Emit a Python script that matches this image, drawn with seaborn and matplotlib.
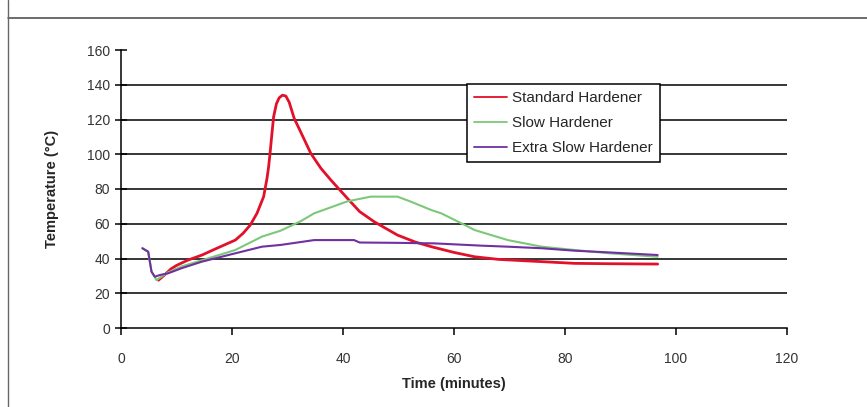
import pandas as pd
import matplotlib.pyplot as plt
import seaborn as sns
from matplotlib.lines import Line2D

std_time = [6.75, 8.0, 9.0, 10, 12, 14.6, 17, 20.6, 22, 23.3, 24.5, 25.7, 26.3, 26.6, 26.9,
            27.2, 27.5, 28.0, 28.5, 29.1, 29.7, 30.3, 31.2, 32.5, 34.2, 36, 37.8, 40.8,
            43, 45.6, 49.8, 53, 55.9, 60, 63.7, 68, 72.7, 77, 81.7, 88, 96.7]
std_temp = [27.5, 31, 34, 36, 39, 42, 45.5, 50.6, 54.5, 59.3, 66, 75.6, 86, 92.8, 102,
            112, 121.6, 129, 132.5, 134, 133.5, 130, 120.7, 112, 100.5, 92, 85.2, 74.6,
            67, 61.2, 53.5, 49.5, 46.8, 43.5, 41, 39.5, 38.7, 38, 37.2, 37, 36.8]

slow_time = [3.85, 4.9, 5.5, 6.4, 7.5, 8.5, 11, 14.6, 20.6, 25.4, 28.75, 32.4, 34.8,
             40.8, 45, 49.8, 52, 55.9, 57.7, 61.3, 63.7, 69.7, 75.8, 81.7, 88, 96.7]
slow_temp = [45.9, 43.9, 32.4, 27.6, 30, 32, 35.5, 39, 44.9, 52.6, 56, 61.5, 66,
             72.9, 75.6, 75.6, 73, 67.9, 66, 60.3, 56.4, 50.6, 46.8, 44.9, 43, 41]

xslow_time = [3.85, 4.9, 5.5, 6.1, 7.0, 8.5, 11, 14.6, 20.6, 25.4, 28.75, 34.8, 42, 43,
              50, 56.5, 64.9, 69.7, 75.8, 81.7, 88, 96.7]
xslow_temp = [45.9, 43.9, 32.4, 29.5, 30.5, 31.5, 34.5, 38.2, 43, 46.8, 47.8, 50.6, 50.6,
              49.2, 49, 48.7, 47.4, 46.8, 45.9, 44.5, 43.5, 42]

series = ['Standard Hardener', 'Slow Hardener', 'Extra Slow Hardener']
colours = {'Standard Hardener': '#e3102a',
           'Slow Hardener': '#7cc87a',
           'Extra Slow Hardener': '#7030a0'}

df = pd.concat([
    pd.DataFrame({'Time': std_time, 'Temp': std_temp, 'Series': series[0]}),
    pd.DataFrame({'Time': slow_time, 'Temp': slow_temp, 'Series': series[1]}),
    pd.DataFrame({'Time': xslow_time, 'Temp': xslow_temp, 'Series': series[2]}),
])

sns.set_style('white')
plt.rcParams['font.family'] = ['Liberation Sans', 'DejaVu Sans']

fig = plt.figure(figsize=(8.67, 4.07), dpi=100)
ax = fig.add_axes([121 / 867, 1 - 328 / 407, 666 / 867, 278 / 407])

sns.lineplot(data=df, x='Time', y='Temp', hue='Series', palette=colours,
             hue_order=series, sort=False, estimator=None, ax=ax, zorder=3)
for line, lw in zip(ax.get_lines(), [2.0, 1.5, 1.5]):
    line.set_linewidth(lw)

ax.set_xlim(0, 120)
ax.set_ylim(0, 160)
ax.set_xticks(range(0, 121, 20))
ax.set_yticks(range(0, 161, 20))
ax.grid(axis='y', color='black', linewidth=1.1)
ax.get_ygridlines()[-1].set_visible(False)
ax.get_ygridlines()[0].set_visible(False)

for s in ['top', 'right']:
    ax.spines[s].set_visible(False)
for s in ['left', 'bottom']:
    ax.spines[s].set_color('black')
    ax.spines[s].set_linewidth(1.1)

ax.tick_params(axis='y', direction='inout', length=8, width=1.1, color='black',
               labelsize=10, labelcolor='#333333', pad=4, left=True)
ax.tick_params(axis='x', direction='out', length=5, width=1.1, color='black',
               labelsize=10, labelcolor='#333333', pad=12, bottom=True)

ax.set_xlabel('Time (minutes)', fontsize=10.5, fontweight='bold', labelpad=8)
ax.set_ylabel('Temperature (°C)', fontsize=10.5, fontweight='bold', labelpad=20)

leg = ax.legend(loc='upper left', bbox_to_anchor=((467 - 121) / 666, (328 - 84) / 278),
                frameon=True, fancybox=False, edgecolor='black', framealpha=1,
                fontsize=11, labelspacing=0.72, handlelength=2.15, handletextpad=0.35,
                borderpad=0.45, borderaxespad=0)
leg.get_frame().set_linewidth(1.1)
for h in leg.get_lines():
    h.set_linewidth(1.3)

# outer chart-area frame
fig.add_artist(Line2D([8 / 867, 1], [1 - 18 / 407, 1 - 18 / 407],
                      transform=fig.transFigure, color='#444444', linewidth=1.1))
fig.add_artist(Line2D([8 / 867, 8 / 867], [0, 1],
                      transform=fig.transFigure, color='#666666', linewidth=1.0))

plt.savefig('out.png', dpi=100)
